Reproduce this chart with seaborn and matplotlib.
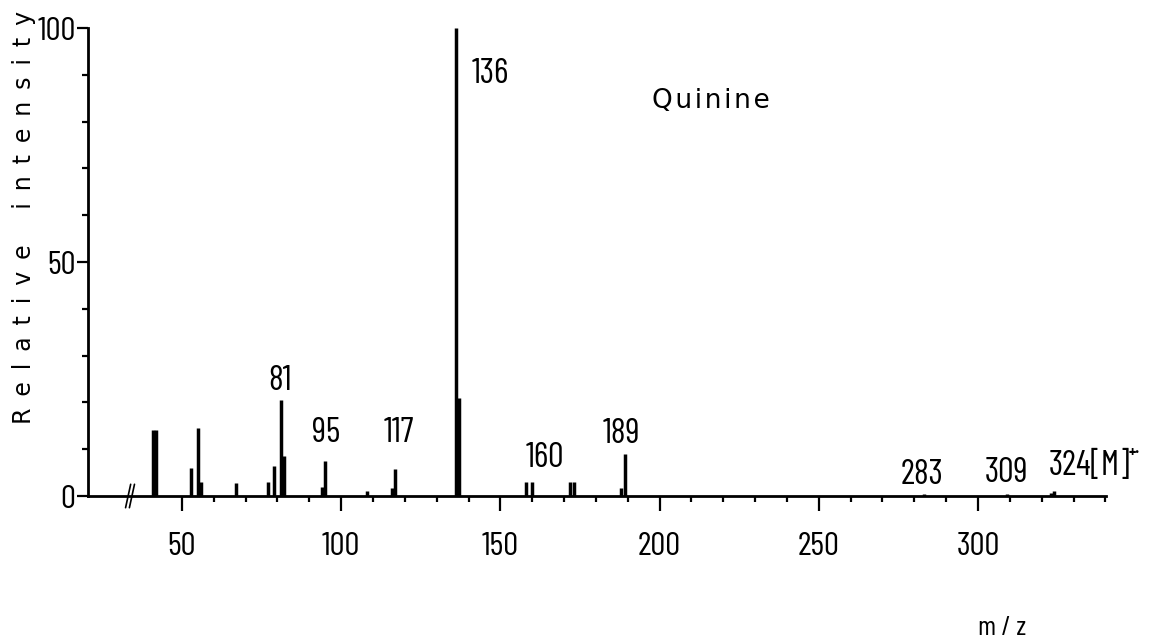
import matplotlib
matplotlib.use("Agg")
import matplotlib.pyplot as plt
import seaborn as sns
import pandas as pd
from matplotlib.ticker import FixedLocator

# ---- data ----
mz = [41, 42, 53, 55, 56, 67, 77, 79, 81, 82, 94, 95, 108, 116, 117,
      136, 137, 158, 160, 172, 173, 188, 189, 283, 309, 323, 324]
intensity = [14, 14, 6, 14.5, 3, 2.8, 3, 6.5, 20.5, 8.5, 2, 7.5, 1, 1.8, 5.7,
             100, 21, 3, 3, 3, 3, 1.7, 9, 0.5, 0.5, 0.7, 1.0]

peak_labels = ["81", "95", "117", "136", "160", "189", "283", "309", "324[M]"]
label_x = [80.8, 95.4, 118.2, 141.1, 163.9, 188.1, 282.3, 309.1, 322.3]
label_y = [22.6, 11.5, 11.5, 88.2, 6.2, 11.3, 2.6, 3.0, 4.4]
label_ha = ["center"] * 8 + ["left"]
label_ha[3] = "left"

x_major = [50, 100, 150, 200, 250, 300]
x_minor = list(range(60, 341, 10))
y_major = [0, 50, 100]
y_minor = list(range(10, 100, 10))

df = pd.DataFrame({"mz": mz, "intensity": intensity})

sns.set_theme(style="ticks", rc={
    "axes.edgecolor": "black", "xtick.color": "black", "ytick.color": "black",
    "text.color": "black", "axes.labelcolor": "black",
})
COND = ["Barlow Condensed", "Roboto Condensed", "Liberation Sans", "DejaVu Sans"]
plt.rcParams["font.family"] = COND

fig = plt.figure(figsize=(11.59, 6.44), dpi=100)
W, H = 1159, 644
ax = fig.add_axes([88 / W, 1 - 496 / H, (1106 - 88) / W, (496 - 28) / H])

ax.vlines(df["mz"], 0, df["intensity"], color="black", linewidth=2.5)

ax.set_xlim(20.5, 340.2)
ax.set_ylim(0, 100)
sns.despine(ax=ax)
for s in ["left", "bottom"]:
    ax.spines[s].set_linewidth(2.0)

ax.xaxis.set_major_locator(FixedLocator(x_major))
ax.xaxis.set_minor_locator(FixedLocator(x_minor))
ax.yaxis.set_major_locator(FixedLocator(y_major))
ax.yaxis.set_minor_locator(FixedLocator(y_minor))
ax.tick_params(axis="x", which="major", length=11, width=1.6, labelsize=24, pad=15)
ax.tick_params(axis="x", which="minor", length=4, width=1.6)
ax.tick_params(axis="y", which="major", length=8, width=1.6, labelsize=24, pad=1)
ax.tick_params(axis="y", which="minor", length=4, width=1.6)

# axis break mark
for dx in (-0.6, 0.6):
    ax.plot([33.7 + dx - 0.8, 33.7 + dx + 0.8], [-2.5, 2.5], color="black",
            linewidth=1.2, clip_on=False)

for t, x, y, ha in zip(peak_labels, label_x, label_y, label_ha):
    ax.text(x, y, t, ha=ha, va="baseline", fontsize=25)
ax.text(347.3, 8.3, "+·", ha="left", va="baseline", fontsize=12, fontweight="bold",
        clip_on=False)
ax.text(216.2, 84.4, "Q\u200au\u200ai\u200an\u200ai\u200an\u200ae", ha="center", va="center",
        fontsize=19, family=["DejaVu Sans"])

fig.text(1002 / W, 1 - 628 / H, "m / z", ha="center", va="center", fontsize=20)
ylab = "\u2002".join("Relative") + "\u2002\u2002\u2002" + "\u2002".join("intensity")
fig.text(24 / W, 1 - 217 / H, ylab, rotation=90,
         ha="center", va="center", fontsize=17, family=["DejaVu Sans"])

fig.savefig("out.png", dpi=100, facecolor="white")
